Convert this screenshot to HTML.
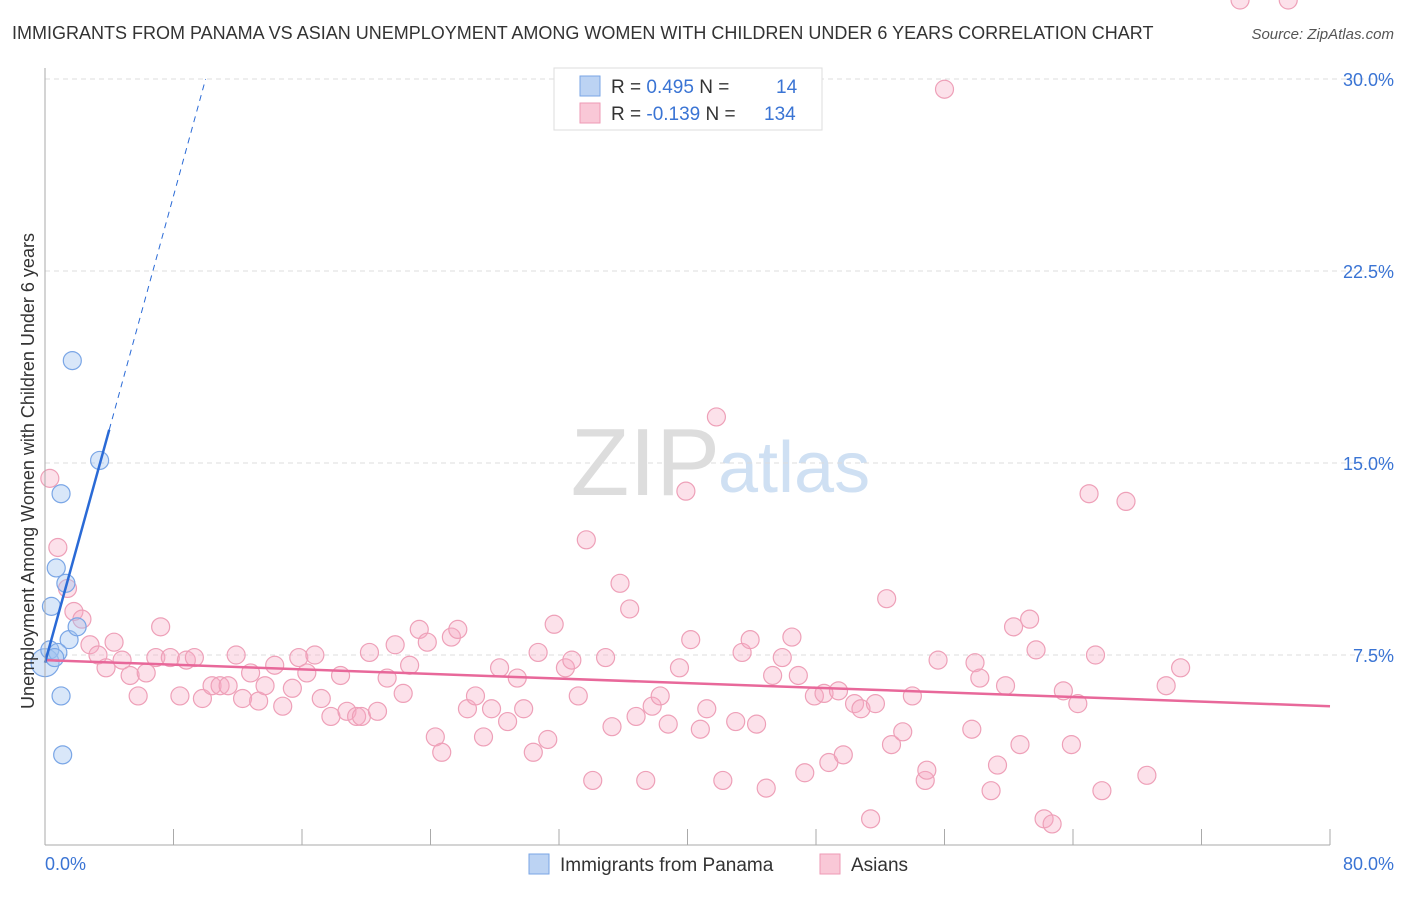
<!DOCTYPE html>
<html><head><meta charset="utf-8"><style>
body{margin:0;background:#fff;font-family:"Liberation Sans",sans-serif}
svg text{font-family:"Liberation Sans",sans-serif}
</style></head><body>
<svg id="c" width="1406" height="892">
<text x="12" y="39" font-size="18" fill="#333">IMMIGRANTS FROM PANAMA VS ASIAN UNEMPLOYMENT AMONG WOMEN WITH CHILDREN UNDER 6 YEARS CORRELATION CHART</text>
<text x="1394" y="39" font-size="15" fill="#555" text-anchor="end" font-style="italic">Source: ZipAtlas.com</text>
<text x="720" y="495" font-size="96" fill="#ddd" text-anchor="end" font-family="Liberation Serif">ZIP</text>
<text x="718" y="492" font-size="72" fill="#cfe0f3">atlas</text>
<g id="grid"></g><g id="pts"></g><g id="lines"></g>
<line x1="45" y1="68" x2="45" y2="845" stroke="#aaa"/>
<line x1="45" y1="845" x2="1330" y2="845" stroke="#aaa"/>
<text x="18" y="455" font-size="18" fill="#333" text-anchor="middle" transform="rotate(-90 34 455)">Unemployment Among Women with Children Under 6 years</text>
<text x="45" y="870" font-size="18" fill="#3a74d4">0.0%</text>
<text x="1394" y="870" font-size="18" fill="#3a74d4" text-anchor="end">80.0%</text>
<g>
<rect x="554" y="68" width="268" height="62" fill="#fff" stroke="#ddd"/>
<rect x="580" y="76" width="20" height="20" fill="#bcd3f3" stroke="#7aa6e6"/>
<rect x="580" y="103" width="20" height="20" fill="#f9c8d7" stroke="#ee9ab4"/>
<text x="611" y="93" font-size="19" fill="#333">R = <tspan fill="#3a74d4">0.495</tspan>   N = <tspan fill="#3a74d4" x="776">14</tspan></text>
<text x="611" y="120" font-size="19" fill="#333">R = <tspan fill="#3a74d4">-0.139</tspan>   N = <tspan fill="#3a74d4" x="764">134</tspan></text>
</g>
<g>
<rect x="529" y="854" width="20" height="20" fill="#bcd3f3" stroke="#7aa6e6"/>
<text x="560" y="871" font-size="19" fill="#333">Immigrants from Panama</text>
<rect x="820" y="854" width="20" height="20" fill="#f9c8d7" stroke="#ee9ab4"/>
<text x="851" y="871" font-size="19" fill="#333">Asians</text>
</g>
</svg>
<script>
const yTicks=[7.5,15,22.5,30];
const xTicks=[0,8,16,24,32,40,48,56,64,72,80];
const panamaX=[0,0.3,0.4,0.7,1,1,1.1,1.5,1.7,2,0.8,0.6,3.4,1.3];
const panamaY=[7.2,7.7,9.4,10.9,13.8,5.9,3.6,8.1,19.0,8.6,7.6,7.4,15.1,10.3];
const panamaR=[14,9,9,9,9,9,9,9,9,9,9,9,9,9];
const asianX=[0.3,0.8,1.4,1.8,2.3,2.8,3.3,3.8,4.3,4.8,5.3,5.8,6.3,7.2,6.9,7.8,8.4,8.8,9.3,9.8,10.4,10.9,11.4,11.9,12.3,12.8,13.3,13.7,14.3,14.8,15.4,15.8,16.3,16.8,17.2,17.8,18.4,18.8,19.4,19.7,20.2,20.7,21.3,21.8,22.3,22.7,23.3,23.8,24.3,24.7,25.3,25.7,26.3,26.8,27.3,27.8,28.3,28.8,29.4,29.8,30.4,30.7,31.3,31.7,32.4,32.8,33.2,33.7,34.1,34.9,35.3,35.8,36.4,36.8,37.4,37.8,38.3,38.8,39.5,39.9,40.2,40.8,41.2,41.8,42.2,43.0,43.4,43.9,44.3,44.9,45.3,45.9,46.5,46.9,47.3,47.9,48.5,48.8,49.4,49.7,50.4,50.8,51.4,51.7,52.4,52.7,53.4,54.0,54.8,54.9,55.6,56.0,57.9,57.7,58.2,58.9,59.3,59.8,60.3,60.7,61.3,61.7,62.2,62.7,63.4,63.9,64.3,65.0,65.4,65.8,67.3,68.6,69.8,70.7,74.4,77.4];
const asianY=[14.4,11.7,10.1,9.2,8.9,7.9,7.5,7.0,8.0,7.3,6.7,5.9,6.8,8.6,7.4,7.4,5.9,7.3,7.4,5.8,6.3,6.3,6.3,7.5,5.8,6.8,5.7,6.3,7.1,5.5,6.2,7.4,6.8,7.5,5.8,5.1,6.7,5.3,5.1,5.1,7.6,5.3,6.6,7.9,6.0,7.1,8.5,8.0,4.3,3.7,8.2,8.5,5.4,5.9,4.3,5.4,7.0,4.9,6.6,5.4,3.7,7.6,4.2,8.7,7.0,7.3,5.9,12.0,2.6,7.4,4.7,10.3,9.3,5.1,2.6,5.5,5.9,4.8,7.0,13.9,8.1,4.6,5.4,16.8,2.6,4.9,7.6,8.1,4.8,2.3,6.7,7.4,8.2,6.7,2.9,5.9,6.0,3.3,6.1,3.6,5.6,5.4,1.1,5.6,9.7,4.0,4.5,5.9,2.6,3.0,7.3,29.6,7.2,4.6,6.6,2.2,3.2,6.3,8.6,4.0,8.9,7.7,1.1,0.9,6.1,4.0,5.6,13.8,7.5,2.2,13.5,2.8,6.3,7.0];
const X=v=>45+v*1285/80, Y=v=>847-v*25.6;
const NS='http://www.w3.org/2000/svg';
function mk(t,a,p){const e=document.createElementNS(NS,t);for(const k in a)e.setAttribute(k,a[k]);p.appendChild(e);return e;}
const grid=document.getElementById('grid'),pts=document.getElementById('pts'),lines=document.getElementById('lines');
yTicks.forEach(t=>{
 const l=mk('line',{x1:45,x2:1394,y1:Y(t),y2:Y(t),stroke:'#ddd','stroke-dasharray':'5,4'},grid);
 
 
 const tx=mk('text',{x:1394,y:Y(t)+7,'font-size':18,fill:'#3a74d4','text-anchor':'end'},grid);
 tx.textContent=t.toFixed(1)+'%';
 
 
});
xTicks.forEach(t=>{
 const l=mk('line',{x1:X(t),x2:X(t),y1:829,y2:845,stroke:'#aaa'},grid);
 
 
});
asianX.forEach((x,i)=>{
 const c=mk('circle',{cx:X(x),cy:Y(asianY[i]),r:9,fill:'rgba(246,170,195,0.35)',stroke:'#eea0b8','stroke-width':1.2},pts);
 
 
});
panamaX.forEach((x,i)=>{
 const c=mk('circle',{cx:X(x),cy:Y(panamaY[i]),r:panamaR[i],fill:'rgba(160,195,240,0.4)',stroke:'#7aa6e6','stroke-width':1.2},pts);
 
 
});
const pl=mk('line',{x1:X(0),y1:Y(7.3),x2:X(80),y2:Y(5.5),stroke:'#e8689a','stroke-width':2.5},lines);


const bl=mk('line',{x1:X(0),y1:Y(7.2),x2:X(4),y2:Y(16.3),stroke:'#2a6ad6','stroke-width':2.5},lines);


const bd=mk('line',{x1:X(4),y1:Y(16.3),x2:X(10),y2:Y(30),stroke:'#2a6ad6','stroke-width':1,'stroke-dasharray':'6,5'},lines);


</script>
</body></html>
